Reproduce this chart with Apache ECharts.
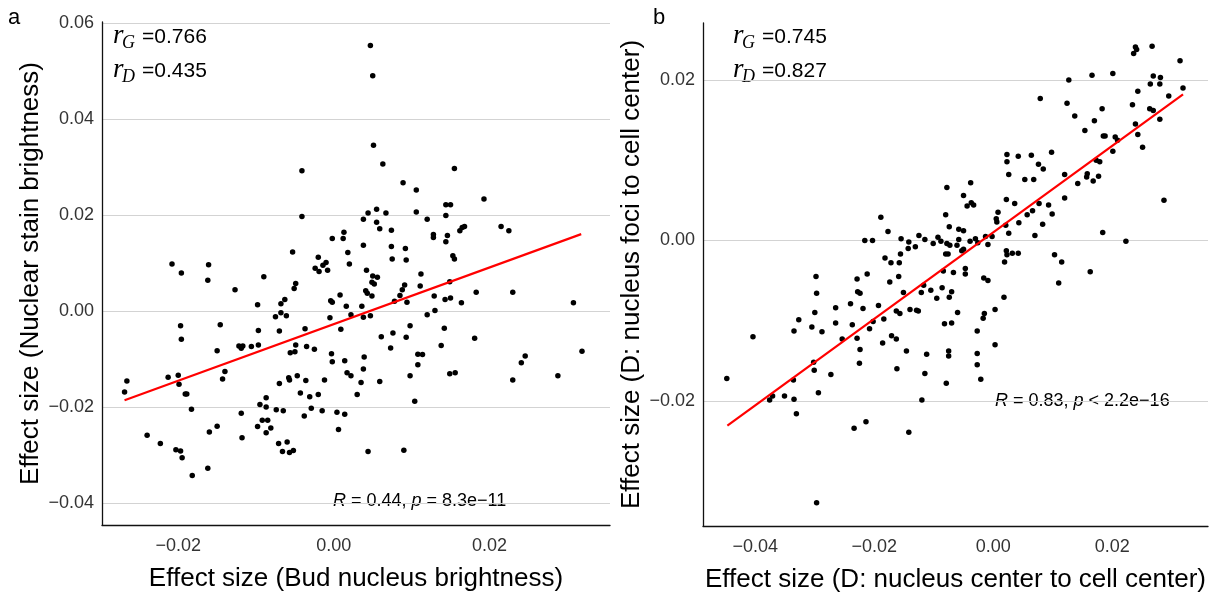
<!DOCTYPE html>
<html>
<head>
<meta charset="utf-8">
<script src="https://cdn.jsdelivr.net/npm/echarts@6/dist/echarts.min.js"></script>
<style>
html, body { margin: 0; padding: 0; background: #fff; }
#chart { width: 1212px; height: 592px; }
</style>
</head>
<body>
<div id="chart"></div>
<script>
// panel a: bud nucleus brightness vs nuclear stain brightness
const budX = [
  -0.0041,-0.0041,0.0013,-0.0002,0.0012,-0.0053,-0.0020,0.0018,0.0047,0.0050,
  0.0051,0.0063,0.0155,0.0089,0.0106,0.0193,0.0144,0.0150,0.0055,0.0044,
  0.0067,0.0106,0.0144,0.0038,0.0120,0.0055,0.0059,0.0074,0.0168,0.0165,
  0.0162,0.0215,0.0225,0.0128,0.0128,0.0146,0.0144,0.0038,0.0074,0.0092,
  0.0153,0.0075,0.0093,0.0155,-0.0208,-0.0161,-0.0196,-0.0162,-0.0024,-0.0019,
  -0.0014,-0.0010,-0.0008,0.0020,-0.0090,-0.0127,-0.0049,-0.0051,-0.0098,-0.0004,
  -0.0002,0.0008,-0.0068,-0.0063,0.0016,-0.0075,-0.0068,-0.0061,-0.0005,0.0022,
  -0.0197,-0.0146,-0.0097,-0.0070,0.0009,-0.0037,-0.0196,-0.0150,-0.0122,-0.0119,
  -0.0117,-0.0106,-0.0097,-0.0049,-0.0050,-0.0056,-0.0035,-0.0025,-0.0003,-0.0002,
  0.0014,-0.0140,-0.0143,-0.0213,-0.0200,-0.0199,-0.0266,-0.0269,-0.0191,-0.0189,
  -0.0070,-0.0058,-0.0057,-0.0047,-0.0036,-0.0043,-0.0031,-0.0020,-0.0012,0.0017,
  0.0022,0.0030,-0.0183,-0.0119,-0.0095,-0.0087,-0.0087,-0.0074,-0.0065,-0.0029,
  -0.0015,-0.0038,0.0004,0.0014,0.0006,-0.0092,-0.0085,-0.0098,-0.0081,-0.0087,
  -0.0150,-0.0160,-0.0240,-0.0223,-0.0203,-0.0197,-0.0195,-0.0118,-0.0071,-0.0060,
  -0.0066,-0.0057,-0.0052,-0.0182,-0.0162,0.0042,0.0050,0.0056,0.0049,0.0052,
  0.0112,0.0091,0.0111,0.0088,0.0085,0.0041,0.0043,0.0049,0.0149,0.0183,
  0.0230,0.0308,0.0078,0.0094,0.0129,0.0143,0.0150,0.0164,0.0036,0.0038,
  0.0047,0.0120,0.0130,0.0098,0.0142,0.0061,0.0076,0.0093,0.0181,0.0073,
  0.0138,0.0108,0.0114,0.0039,0.0108,0.0246,0.0241,0.0319,0.0038,0.0035,
  0.0059,0.0098,0.0149,0.0156,0.0230,0.0288,0.0104,0.0044,0.0090
];
const stainY = [
  0.0292,0.0197,0.0164,0.0151,0.0151,0.0123,0.0112,0.0122,0.0553,0.0490,
  0.0345,0.0306,0.0297,0.0267,0.0252,0.0233,0.0221,0.0221,0.0212,0.0204,
  0.0204,0.0206,0.0199,0.0191,0.0191,0.0185,0.0171,0.0168,0.0176,0.0174,
  0.0167,0.0176,0.0167,0.0159,0.0153,0.0157,0.0144,0.0137,0.0134,0.0130,
  0.0115,0.0108,0.0106,0.0108,0.0098,0.0096,0.0079,0.0064,0.0089,0.0082,
  0.0095,0.0101,0.0085,0.0098,0.0071,0.0044,0.0057,0.0047,0.0013,0.0021,
  0.0018,0.0033,0.0015,0.0024,0.0010,-0.0012,-0.0004,-0.0010,-0.0014,-0.0008,
  -0.0031,-0.0029,-0.0041,-0.0042,-0.0038,-0.0037,-0.0059,-0.0083,-0.0073,-0.0078,
  -0.0073,-0.0074,-0.0071,-0.0071,-0.0085,-0.0087,-0.0074,-0.0080,-0.0089,-0.0106,
  -0.0104,-0.0126,-0.0142,-0.0138,-0.0134,-0.0153,-0.0146,-0.0169,-0.0173,-0.0173,
  -0.0151,-0.0139,-0.0144,-0.0135,-0.0145,-0.0171,-0.0179,-0.0174,-0.0144,-0.0129,
  -0.0135,-0.0174,-0.0205,-0.0213,-0.0195,-0.0181,-0.0200,-0.0206,-0.0208,-0.0203,
  -0.0208,-0.0219,-0.0211,-0.0215,-0.0247,-0.0228,-0.0228,-0.0241,-0.0244,-0.0254,
  -0.0240,-0.0252,-0.0259,-0.0276,-0.0289,-0.0292,-0.0306,-0.0264,-0.0276,-0.0273,
  -0.0293,-0.0295,-0.0291,-0.0343,-0.0328,0.0085,0.0073,0.0070,0.0060,0.0056,
  0.0077,0.0054,0.0052,0.0044,0.0032,0.0042,0.0037,0.0031,0.0061,0.0039,
  0.0039,0.0017,0.0020,0.0018,0.0031,0.0024,0.0027,0.0017,0.0010,-0.0013,
  -0.0010,-0.0008,0.0001,-0.0031,-0.0036,-0.0054,-0.0046,-0.0055,-0.0057,-0.0077,
  -0.0072,-0.0090,-0.0091,-0.0096,-0.0112,-0.0094,-0.0108,-0.0084,-0.0121,-0.0149,
  -0.0147,-0.0135,-0.0131,-0.0129,-0.0144,-0.0135,-0.0188,-0.0293,-0.0290
];
const fitAX = [-0.0269, 0.0318];
const fitAY = [-0.0186, 0.0160];

// panel b: nucleus center to cell center vs nucleus foci to cell center
const centerX = [
  -0.0078,-0.0080,-0.0189,-0.0177,-0.0074,-0.0058,-0.0216,-0.0203,-0.0155,-0.0142,
  -0.0125,-0.0115,-0.0093,-0.0101,-0.0088,-0.0078,-0.0073,-0.0061,-0.0143,-0.0131,
  -0.0182,-0.0156,-0.0080,-0.0076,-0.0058,-0.0172,-0.0158,-0.0298,-0.0229,-0.0212,
  -0.0174,-0.0159,-0.0084,-0.0067,-0.0297,-0.0228,-0.0224,-0.0151,-0.0121,-0.0117,
  -0.0105,-0.0095,-0.0086,-0.0074,-0.0070,-0.0240,-0.0265,-0.0300,-0.0219,-0.0193,
  -0.0163,-0.0157,-0.0140,-0.0129,-0.0126,-0.0060,-0.0327,-0.0335,-0.0305,-0.0288,
  -0.0265,-0.0237,-0.0202,-0.0184,-0.0208,-0.0082,-0.0070,-0.0404,-0.0254,-0.0229,
  -0.0186,-0.0171,-0.0163,-0.0224,-0.0146,-0.0112,-0.0075,-0.0075,-0.0302,-0.0301,
  -0.0225,-0.0162,-0.0448,-0.0336,-0.0273,-0.0115,-0.0079,-0.0371,-0.0376,-0.0351,
  -0.0335,-0.0294,-0.0120,-0.0331,-0.0234,-0.0214,-0.0142,-0.0297,0.0239,0.0241,
  0.0236,0.0267,0.0314,0.0127,0.0166,0.0201,0.0269,0.0281,0.0280,0.0264,
  0.0243,0.0319,0.0295,0.0079,0.0124,0.0234,0.0263,0.0269,0.0183,0.0137,
  0.0170,0.0280,0.0239,0.0154,0.0243,0.0185,0.0188,0.0205,0.0209,0.0251,
  0.0201,0.0023,0.0023,0.0042,0.0064,0.0098,0.0076,0.0084,0.0173,0.0179,
  0.0026,0.0053,0.0068,0.0120,0.0142,0.0158,0.0157,0.0177,0.0168,-0.0038,
  -0.0050,-0.0044,-0.0037,-0.0033,0.0022,0.0036,0.0077,0.0093,0.0120,0.0287,
  0.0008,0.0005,0.0006,0.0066,0.0057,0.0099,0.0021,0.0026,0.0043,0.0083,
  -0.0050,-0.0002,-0.0013,0.0070,0.0184,0.0223,-0.0039,-0.0030,-0.0026,-0.0009,
  -0.0053,-0.0050,0.0022,0.0023,0.0032,0.0042,0.0103,0.0115,0.0163,0.0110,
  0.0019,-0.0047,-0.0047,-0.0016,-0.0009,0.0018,0.0003,-0.0015,-0.0017,-0.0027,
  0.0003,-0.0027,-0.0027,-0.0021
];
const fociY = [
  0.0066,0.0032,0.0029,0.0011,0.0017,0.0014,0.0000,0.0000,0.0002,-0.0002,
  0.0006,0.0001,0.0004,-0.0004,-0.0001,-0.0004,-0.0006,-0.0006,-0.0010,-0.0008,
  -0.0022,-0.0017,-0.0017,-0.0017,0.0001,-0.0028,-0.0028,-0.0045,-0.0048,-0.0042,
  -0.0052,-0.0045,-0.0038,-0.0040,-0.0066,-0.0064,-0.0066,-0.0065,-0.0065,-0.0056,
  -0.0062,-0.0072,-0.0059,-0.0071,-0.0064,-0.0079,-0.0084,-0.0090,-0.0085,-0.0081,
  -0.0088,-0.0091,-0.0086,-0.0087,-0.0088,-0.0090,-0.0099,-0.0113,-0.0108,-0.0114,
  -0.0103,-0.0105,-0.0101,-0.0098,-0.0110,-0.0104,-0.0103,-0.0120,-0.0123,-0.0122,
  -0.0128,-0.0119,-0.0123,-0.0136,-0.0138,-0.0142,-0.0138,-0.0144,-0.0152,-0.0162,
  -0.0153,-0.0160,-0.0172,-0.0174,-0.0167,-0.0166,-0.0178,-0.0194,-0.0199,-0.0194,
  -0.0198,-0.0190,-0.0199,-0.0216,-0.0234,-0.0226,-0.0239,-0.0327,0.0241,0.0238,
  0.0233,0.0242,0.0224,0.0200,0.0206,0.0208,0.0205,0.0203,0.0195,0.0195,
  0.0186,0.0190,0.0180,0.0177,0.0171,0.0169,0.0164,0.0162,0.0164,0.0155,
  0.0149,0.0151,0.0145,0.0137,0.0132,0.0130,0.0130,0.0129,0.0125,0.0116,
  0.0111,0.0107,0.0098,0.0105,0.0106,0.0110,0.0095,0.0089,0.0100,0.0098,
  0.0082,0.0076,0.0076,0.0082,0.0071,0.0083,0.0079,0.0080,0.0074,0.0072,
  0.0056,0.0043,0.0047,0.0044,0.0051,0.0046,0.0046,0.0044,0.0053,0.0050,
  0.0035,0.0027,0.0023,0.0037,0.0032,0.0033,0.0019,0.0009,0.0022,0.0020,
  0.0012,0.0005,0.0005,0.0006,0.0010,-0.0001,-0.0001,0.0002,-0.0003,-0.0005,
  -0.0013,-0.0011,-0.0013,-0.0018,-0.0016,-0.0016,-0.0018,-0.0027,-0.0039,-0.0053,
  -0.0027,-0.0035,-0.0042,-0.0047,-0.0050,-0.0071,-0.0086,-0.0091,-0.0097,-0.0113,
  -0.0130,-0.0141,-0.0155,-0.0173
];
const fitBX = [-0.0447, 0.0319];
const fitBY = [-0.0231, 0.0182];

const ticksAX = [-0.02, 0, 0.02];
const ticksAY = [-0.04, -0.02, 0, 0.02, 0.04, 0.06];
const ticksBX = [-0.04, -0.02, 0, 0.02];
const ticksBY = [-0.02, 0, 0.02];

const SANS = '"Liberation Sans", Arial, sans-serif';
const SERIF = '"Liberation Serif", "DejaVu Serif", serif';

function fmt(v) {
  const s = Math.abs(v).toFixed(2);
  return v < -1e-9 ? '\u2212' + s : s;
}

function zip(xs, ys) {
  return xs.map((x, i) => [x, ys[i]]);
}

function axis(gridIndex, min, max, ticks, name, nameGap, isY) {
  return {
    type: 'value',
    gridIndex: gridIndex,
    min: min,
    max: max,
    name: name,
    nameLocation: 'middle',
    nameGap: nameGap,
    nameRotate: isY ? 90 : 0,
    nameTextStyle: { fontFamily: SANS, fontSize: 26, color: '#000' },
    axisLine: { show: true, onZero: false, lineStyle: { color: '#111', width: 1.3 } },
    axisTick: { show: false, customValues: ticks },
    axisLabel: {
      customValues: ticks,
      formatter: fmt,
      fontFamily: SANS,
      fontSize: 18,
      color: '#333',
      margin: isY ? 8 : 12
    },
    splitLine: { show: isY, lineStyle: { color: '#d3d3d3', width: 1 } }
  };
}

// r_G / r_D labels: italic serif r, italic subscript, sans value
function rLabel(x, y, sub, val) {
  return [
    { type: 'text', x: x, y: y, style: { text: 'r', font: 'italic 27px ' + SERIF, fill: '#000', textVerticalAlign: 'middle' } },
    { type: 'text', x: x + 9, y: y + 7, style: { text: sub, font: 'italic 18px ' + SERIF, fill: '#000', textVerticalAlign: 'middle' } },
    { type: 'text', x: x + 29, y: y + 1, style: { text: '=' + val, font: '21px ' + SANS, fill: '#000', textVerticalAlign: 'middle' } }
  ];
}

function statLabel(x, y, text) {
  return {
    type: 'text', x: x, y: y,
    style: {
      text: text,
      font: '18px ' + SANS,
      fill: '#000',
      textVerticalAlign: 'middle',
      rich: { i: { fontStyle: 'italic', fontSize: 18, fontFamily: SANS } }
    }
  };
}

const chart = echarts.init(document.getElementById('chart'));
chart.setOption({
  animation: false,
  backgroundColor: '#fff',
  grid: [
    { left: 102, top: 22, width: 508, height: 503, outerBoundsMode: 'none' },
    { left: 703, top: 23, width: 505, height: 503, outerBoundsMode: 'none' }
  ],
  xAxis: [
    axis(0, -0.0298, 0.0355, ticksAX, 'Effect size (Bud nucleus brightness)', 41, false),
    axis(1, -0.0488, 0.0361, ticksBX, 'Effect size (D: nucleus center to cell center)', 41, false)
  ],
  yAxis: [
    axis(0, -0.0446, 0.0602, ticksAY, 'Effect size (Nuclear stain brightness)', 58, true),
    axis(1, -0.0356, 0.0271, ticksBY, 'Effect size (D: nucleus foci to cell center)', 58, true)
  ],
  series: [
    {
      type: 'scatter', xAxisIndex: 0, yAxisIndex: 0,
      data: zip(budX, stainY), symbolSize: 5.5,
      itemStyle: { color: '#000', opacity: 1 }, silent: true
    },
    {
      type: 'line', xAxisIndex: 0, yAxisIndex: 0,
      data: zip(fitAX, fitAY), symbol: 'none', z: 5,
      lineStyle: { color: '#ff0000', width: 2.2 }, silent: true
    },
    {
      type: 'scatter', xAxisIndex: 1, yAxisIndex: 1,
      data: zip(centerX, fociY), symbolSize: 5.5,
      itemStyle: { color: '#000', opacity: 1 }, silent: true
    },
    {
      type: 'line', xAxisIndex: 1, yAxisIndex: 1,
      data: zip(fitBX, fitBY), symbol: 'none', z: 5,
      lineStyle: { color: '#ff0000', width: 2.2 }, silent: true
    }
  ],
  graphic: [
    { type: 'text', x: 8, y: 18, style: { text: 'a', font: '22px ' + SANS, fill: '#000', textVerticalAlign: 'middle' } },
    { type: 'text', x: 653, y: 18, style: { text: 'b', font: '22px ' + SANS, fill: '#000', textVerticalAlign: 'middle' } },
    ...rLabel(113, 36, 'G', '0.766'),
    ...rLabel(113, 70, 'D', '0.435'),
    ...rLabel(733, 36, 'G', '0.745'),
    ...rLabel(733, 70, 'D', '0.827'),
    statLabel(333, 501, '{i|R} = 0.44, {i|p} = 8.3e\u221211'),
    statLabel(995, 401, '{i|R} = 0.83, {i|p} < 2.2e\u221216')
  ]
});
</script>
</body>
</html>
